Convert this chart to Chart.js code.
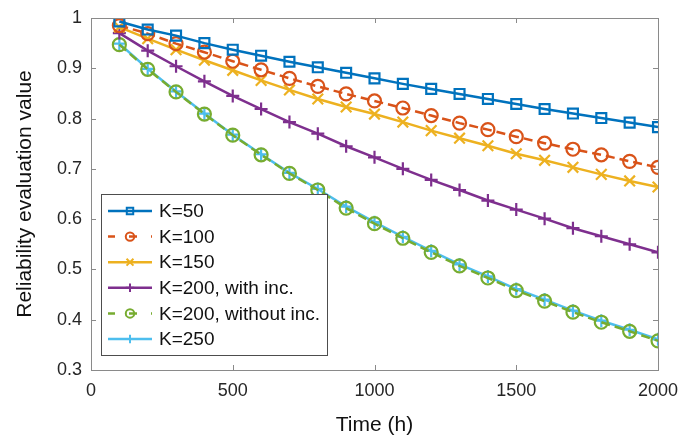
<!DOCTYPE html>
<html>
<head>
<meta charset="utf-8">
<script src="https://cdn.jsdelivr.net/npm/chart.js@4/dist/chart.umd.min.js"></script>
<style>
  html, body { margin: 0; padding: 0; background: #fff; }
  #wrap { width: 679px; height: 439px; }
</style>
</head>
<body>
<div id="wrap"><canvas id="chart-reliability"></canvas></div>
<script>
// time steps (h)
let timeSteps = [100, 200, 300, 400, 500, 600, 700, 800, 900, 1000,
                 1100, 1200, 1300, 1400, 1500, 1600, 1700, 1800, 1900, 2000]

let k50 = [0.993, 0.977, 0.965, 0.950, 0.937, 0.925, 0.913, 0.902, 0.891, 0.880,
           0.869, 0.859, 0.849, 0.839, 0.829, 0.819, 0.810, 0.801, 0.792, 0.783]
let k100 = [0.985, 0.969, 0.949, 0.932, 0.914, 0.897, 0.880, 0.864, 0.849, 0.835,
            0.821, 0.806, 0.791, 0.778, 0.764, 0.751, 0.739, 0.728, 0.715, 0.703]
let k150 = [0.982, 0.959, 0.937, 0.916, 0.896, 0.876, 0.857, 0.839, 0.823, 0.809,
            0.793, 0.776, 0.761, 0.746, 0.730, 0.717, 0.703, 0.689, 0.676, 0.664]
let k200Inc = [0.970, 0.935, 0.904, 0.874, 0.845, 0.819, 0.793, 0.770, 0.745, 0.723,
               0.700, 0.678, 0.658, 0.637, 0.619, 0.601, 0.582, 0.566, 0.550, 0.534]
let k200NoInc = [0.947, 0.898, 0.853, 0.809, 0.767, 0.728, 0.691, 0.658, 0.622, 0.591,
                 0.562, 0.534, 0.507, 0.483, 0.458, 0.437, 0.415, 0.395, 0.377, 0.358]
let k250 = [0.949, 0.899, 0.854, 0.810, 0.768, 0.729, 0.692, 0.660, 0.625, 0.594,
            0.565, 0.537, 0.510, 0.486, 0.461, 0.440, 0.418, 0.398, 0.380, 0.361]

let seriesLabels = ['K=50', 'K=100', 'K=150', 'K=200, with inc.', 'K=200, without inc.', 'K=250']
let xTicks = [0, 500, 1000, 1500, 2000]
let yTicks = [0.3, 0.4, 0.5, 0.6, 0.7, 0.8, 0.9, 1]

let fontFamily = '"Liberation Sans", Arial, Helvetica, sans-serif'
let axisColor = '#8a8a8a'

let toPoints = arr => arr.map((v, i) => ({ x: timeSteps[i], y: v }))

let makeSet = (label, values, color, style, radius, dash) => ({
	label,
	data: toPoints(values),
	borderColor: color,
	backgroundColor: 'rgba(0,0,0,0)',
	borderWidth: 2.5,
	borderDash: dash || [],
	pointStyle: style,
	pointRadius: radius,
	pointHoverRadius: radius,
	pointBorderWidth: 2.2,
	pointBorderColor: color,
	pointBackgroundColor: 'rgba(0,0,0,0)',
	tension: 0,
	fill: false,
})

let datasets = [
	makeSet(seriesLabels[0], k50, '#0072BD', 'rect', 7),
	makeSet(seriesLabels[1], k100, '#D95319', 'circle', 6.5, [9, 5]),
	makeSet(seriesLabels[2], k150, '#EDB120', 'crossRot', 7.5),
	makeSet(seriesLabels[3], k200Inc, '#7E2F8E', 'cross', 6.5),
	makeSet(seriesLabels[4], k200NoInc, '#77AC30', 'circle', 6.5, [9, 5]),
	makeSet(seriesLabels[5], k250, '#4DBEEE', 'cross', 6.5),
]

// marker drawing for the legend samples
function drawMarker(ctx, style, x, y, r) {
	ctx.beginPath()
	if (style === 'rect') {
		let s = r * Math.SQRT1_2
		ctx.rect(x - s, y - s, 2 * s, 2 * s)
	} else if (style === 'circle') {
		ctx.arc(x, y, r, 0, Math.PI * 2)
	} else if (style === 'cross') {
		ctx.moveTo(x - r, y); ctx.lineTo(x + r, y)
		ctx.moveTo(x, y - r); ctx.lineTo(x, y + r)
	} else if (style === 'crossRot') {
		let s = r * Math.SQRT1_2
		ctx.moveTo(x - s, y - s); ctx.lineTo(x + s, y + s)
		ctx.moveTo(x - s, y + s); ctx.lineTo(x + s, y - s)
	}
	ctx.stroke()
}

// box frame with inward ticks on all four sides
let framePlugin = {
	id: 'frame',
	afterDatasetsDraw(chart) {
		let { ctx, chartArea: a, scales } = chart
		ctx.save()
		ctx.strokeStyle = axisColor
		ctx.lineWidth = 1
		ctx.strokeRect(a.left + 0.5, a.top + 0.5, a.right - a.left, a.bottom - a.top)
		ctx.beginPath()
		let len = 5
		xTicks.forEach(t => {
			let px = Math.round(scales.x.getPixelForValue(t)) + 0.5
			ctx.moveTo(px, a.bottom); ctx.lineTo(px, a.bottom - len)
			ctx.moveTo(px, a.top); ctx.lineTo(px, a.top + len)
		})
		yTicks.forEach(t => {
			let py = Math.round(scales.y.getPixelForValue(t)) + 0.5
			ctx.moveTo(a.left, py); ctx.lineTo(a.left + len, py)
			ctx.moveTo(a.right, py); ctx.lineTo(a.right - len, py)
		})
		ctx.stroke()
		ctx.restore()
	}
}

// legend box inside the plot, lower left
let insideLegend = {
	id: 'insideLegend',
	afterDatasetsDraw(chart) {
		let { ctx, chartArea: a } = chart
		let bx = a.left + 10, by = 194, bw = 226, bh = 161
		let rowH = 25.6
		ctx.save()
		ctx.fillStyle = '#fff'
		ctx.fillRect(bx, by, bw, bh)
		ctx.strokeStyle = '#4d4d4d'
		ctx.lineWidth = 1
		ctx.strokeRect(bx + 0.5, by + 0.5, bw, bh)
		ctx.font = '19px ' + fontFamily
		ctx.textBaseline = 'middle'
		chart.data.datasets.forEach((ds, i) => {
			let y = by + 17 + i * rowH
			ctx.strokeStyle = ds.borderColor
			ctx.lineWidth = 2.5
			ctx.setLineDash(ds.borderDash.length ? [7, 14, 8, 14] : [])
			ctx.beginPath()
			ctx.moveTo(bx + 7, y); ctx.lineTo(bx + 51, y)
			ctx.stroke()
			ctx.setLineDash([])
			ctx.lineWidth = 2
			drawMarker(ctx, ds.pointStyle, bx + 29, y, ds.pointRadius * 0.65)
			ctx.fillStyle = '#111'
			ctx.fillText(ds.label, bx + 58, y + 1)
		})
		ctx.restore()
	}
}

var chart = new Chart(document.getElementById('chart-reliability'), {
	type: 'line',
	data: { datasets },
	options: {
		responsive: true,
		maintainAspectRatio: false,
		animation: false,
		layout: { padding: { left: 0, right: 21, top: 18, bottom: 0 } },
		plugins: {
			legend: { display: false },
			tooltip: { enabled: false },
		},
		scales: {
			x: {
				type: 'linear',
				min: 0,
				max: 2000,
				afterBuildTicks: s => { s.ticks = xTicks.map(v => ({ value: v })) },
				// fixed height; end labels may overhang the plot box
				afterFit: s => { s.height = 69; s.paddingLeft = 0; s.paddingRight = 0 },
				grid: { display: false, drawTicks: false },
				border: { display: false },
				ticks: {
					padding: 10,
					color: '#262626',
					font: { family: fontFamily, size: 18 },
					maxRotation: 0,
					callback: v => String(v),
				},
				title: {
					display: true,
					text: 'Time (h)',
					color: '#111',
					font: { family: fontFamily, size: 21 },
					padding: { top: 4, bottom: 1 },
				},
			},
			y: {
				min: 0.3,
				max: 1,
				afterBuildTicks: s => { s.ticks = yTicks.map(v => ({ value: v })) },
				afterFit: s => { s.width = 91; s.paddingTop = 0; s.paddingBottom = 0 },
				grid: { display: false, drawTicks: false },
				border: { display: false },
				ticks: {
					padding: 9,
					color: '#262626',
					font: { family: fontFamily, size: 18 },
					callback: v => (v === 1 ? '1' : v.toFixed(1)),
				},
				title: {
					display: true,
					text: 'Reliability evaluation value',
					color: '#111',
					font: { family: fontFamily, size: 21 },
					padding: { top: 13, bottom: 4 },
				},
			},
		},
	},
	plugins: [framePlugin, insideLegend],
})
</script>
</body>
</html>
